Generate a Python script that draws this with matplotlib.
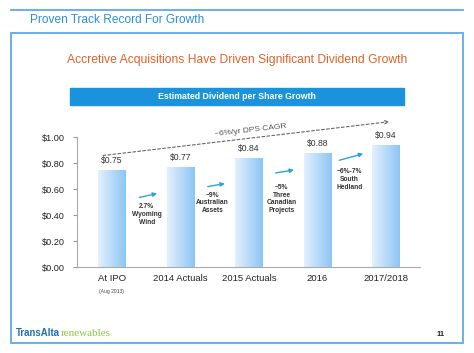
import matplotlib.pyplot as plt
import numpy as np
from matplotlib.patches import Rectangle, FancyArrowPatch
from matplotlib.colors import LinearSegmentedColormap

plt.rcParams['font.family'] = ['Liberation Sans', 'DejaVu Sans']

CATEGORIES = ['At IPO', '2014 Actuals', '2015 Actuals', '2016', '2017/2018']
DPS = [0.75, 0.77, 0.84, 0.88, 0.94]
VALUE_LABELS = ['$0.75', '$0.77', '$0.84', '$0.88', '$0.94']
Y_TICKS = [0.0, 0.2, 0.4, 0.6, 0.8, 1.0]
Y_TICK_LABELS = ['$0.00', '$0.20', '$0.40', '$0.60', '$0.80', '$1.00']
STEP_NOTES = ['2.7%\nWyoming\nWind', '~9%\nAustralian\nAssets',
              '~5%\nThree\nCanadian\nProjects', '~6%-7%\nSouth\nHedland']
# arrow start/end (x, y) and note anchor between bars, in data units
STEP_ARROWS = [((0.36, 0.53), (0.70, 0.57)), ((1.36, 0.615), (1.69, 0.645)),
               ((2.35, 0.72), (2.70, 0.75)), ((3.28, 0.815), (3.71, 0.877))]
STEP_NOTE_POS = [(0.51, 0.49), (1.47, 0.58), (2.48, 0.64), (3.47, 0.76)]
CAGR_LABEL = '~6%/yr DPS CAGR'
CAGR_LINE = ((-0.17, 0.855), (4.09, 1.12))

BLUE = '#2b8fd8'
BORDER = '#5aaae6'
ORANGE = '#e2622b'
BANNER = '#1b93dc'
ARROW_BLUE = '#2ea3dc'

fig = plt.figure(figsize=(4.74, 3.53), dpi=100)
W, H = 474, 353

def fx(px):
    return px / W

def fy(py):
    return 1 - py / H

# top rule and slide title
fig.add_artist(plt.Line2D([fx(11), fx(463)], [fy(10), fy(10)], color=BORDER, lw=1.3))
fig.text(fx(30), fy(20), 'Proven Track Record For Growth', color=BLUE,
         fontsize=8.6, va='center', ha='left')

# outer box
fig.add_artist(Rectangle((fx(11), fy(343)), fx(452), (343 - 33) / H,
                         fill=False, ec=BORDER, lw=1.3, transform=fig.transFigure))
fig.text(0.5, fy(60), 'Accretive Acquisitions Have Driven Significant Dividend Growth',
         color=ORANGE, fontsize=8.7, ha='center', va='center')

# banner
fig.add_artist(Rectangle((fx(70), fy(105)), fx(334), 17 / H, color=BANNER,
                         transform=fig.transFigure))
fig.text(fx(237), fy(96.5), 'Estimated Dividend per Share Growth', color='white',
         fontsize=6.3, fontweight='bold', ha='center', va='center')

ax = fig.add_axes([fx(77), fy(267), fx(420 - 77), (267 - 137) / H])
x = np.arange(len(CATEGORIES))
cmap = LinearSegmentedColormap.from_list('bar', ['#e3f0fd', '#8cc6f4'])
grad = np.linspace(0, 1, 64).reshape(1, -1)
bars = ax.bar(x, DPS, width=0.4, color='none', edgecolor='none')
for b in bars:
    im = ax.imshow(grad, cmap=cmap, aspect='auto',
                   extent=(b.get_x(), b.get_x() + b.get_width(), 0, b.get_height()),
                   zorder=2)
    im.set_clip_path(b)

for xi, v, lab in zip(x, DPS, VALUE_LABELS):
    ax.text(xi, v + 0.035, lab, ha='center', va='bottom', fontsize=6.2, color='#333333')

ax.set_xlim(-0.51, 4.5)
ax.set_ylim(0, 1.0)
ax.set_yticks(Y_TICKS)
ax.set_yticklabels(Y_TICK_LABELS, fontsize=6.6, color='#222222')
ax.set_xticks(x)
ax.set_xticklabels(CATEGORIES, fontsize=6.8, color='#222222')
ax.tick_params(axis='x', length=0, pad=5)
ax.tick_params(axis='y', length=3, color='#999999', pad=6)
for s in ['top', 'right']:
    ax.spines[s].set_visible(False)
for s in ['left', 'bottom']:
    ax.spines[s].set_color('#aaaaaa')
    ax.spines[s].set_linewidth(0.8)
ax.text(0, -0.19, '(Aug 2013)', ha='center', va='center', fontsize=3.6, color='#444444')

# CAGR dashed arrow
(x0, y0), (x1, y1) = CAGR_LINE
ax.add_patch(FancyArrowPatch((x0, y0), (x1, y1), arrowstyle='->', mutation_scale=6,
                             color='#666666', lw=0.8, linestyle=(0, (2.5, 2)),
                             clip_on=False))
ax.text(2.02, 1.05, CAGR_LABEL, rotation=6.5, ha='center', va='center',
        fontsize=6, color='#555555')

# step arrows and notes
for (p0, p1), (nx, ny), note in zip(STEP_ARROWS, STEP_NOTE_POS, STEP_NOTES):
    ax.add_patch(FancyArrowPatch(p0, p1, arrowstyle='-|>', mutation_scale=6,
                                 color=ARROW_BLUE, lw=1.0))
    ax.text(nx, ny, note, ha='center', va='top', fontsize=4.8, fontweight='bold',
            color='#333333', linespacing=1.15)

# footer
fig.text(fx(16), fy(333), 'TransAlta', color='#1d6fb3', fontsize=6.9,
         fontweight='bold', ha='left', va='center')
fig.text(fx(61), fy(333), 'renewables', color='#8cc63f', fontsize=8.0,
         family=['Liberation Serif', 'DejaVu Serif'], ha='left', va='center')
fig.text(fx(441), fy(334), '11', color='#222222', fontsize=5.5, fontweight='bold',
         ha='center', va='center')

fig.savefig('out.png', dpi=100, facecolor='white')
